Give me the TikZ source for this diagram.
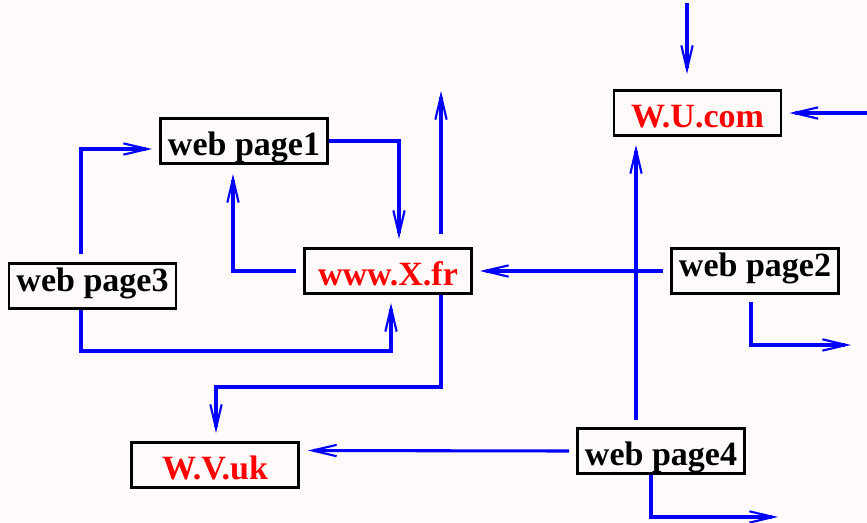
\documentclass[tikz,border=0pt]{standalone}
\usepackage{fontspec}
\setmainfont{Liberation Serif}
\usetikzlibrary{arrows.meta,calc}
\definecolor{snowbg}{RGB}{255,250,250}
\definecolor{linkblue}{RGB}{0,0,255}
\definecolor{sitered}{RGB}{255,0,0}
\tikzset{
  page/.style={draw=black, line width=2.2pt, inner sep=0pt,
    minimum width=125.25pt, minimum height=33.75pt,
    text height=24pt, text depth=2.5pt,
    font=\bfseries\fontsize{25.5pt}{30pt}\selectfont},
  raised/.style={text height=19pt, text depth=10.4pt},
  site/.style={page, text=sitered},
  link/.style={draw=linkblue, line width=2.3pt,
    -{Straight Barb[length=18pt,width=8.5pt,line width=1.6pt]}}
}
\begin{document}
\begin{tikzpicture}[x=0.75pt,y=-0.75pt]
  \fill[snowbg] (0,0) rectangle (867,522);
  \useasboundingbox (0,0) rectangle (867,522);

  % pages and sites
  \node[page] (wp1) at (244,141) {web page1};
  \node[page,raised] (wp3) at (92.5,286) {web page3};
  \node[site] (X)   at (388,271) {www.X.fr};
  \node[site] (WU)  at (697.5,113) {W.U.com\hspace{8pt}};
  \node[page,raised] (wp2) at (755,271) {web page2\hspace{6pt}};
  \node[page] (wp4) at (661,451) {web page4};
  \node[site] (WV)  at (215,465) {W.V.uk};

  % links
  \draw[link] ($(wp3.north)+(-11.5,-8.5)$) |- ($(wp1.west)+(-7,8)$);
  \draw[link] (wp1.east) -| ($(X.north)+(11,-8)$);
  \draw[link] ($(X.west)+(-7,0)$) -| ($(wp1.south)+(-11,9)$);
  \draw[link] ($(wp3.south)+(-11.5,0)$) -- ++(0,41) -| ($(X.south)+(3,8)$);
  \draw[link] ($(X.north)+(53,-13)$) -- ++(0,-143);
  \draw[link] ($(X.south)+(53,0)$) -- ++(0,92) -| ($(WV.north)+(1,-8)$);
  \draw[link] ($(wp2.west)+(-7,0)$) -- ($(X.east)+(7,0)$);
  \draw[link] ($(wp2.south)+(-4,7)$) |- ++(100,43);
  \draw[link] ($(wp4.north)+(-25,-7)$) -- ($(WU.south)+(-61.5,8)$);
  \draw[link] ($(wp4.west)+(-7,0)$) -- ($(WV.east)+(8,-14.5)$);
  \draw[link] ($(wp4.south)+(-10,0)$) |- ++(127,42);
  \draw[link] ($(WU.north)+(-10.5,-86)$) -- ($(WU.north)+(-10.5,-15)$);
  \draw[link] ($(WU.east)+(85,0)$) -- ($(WU.east)+(7,0)$);
\end{tikzpicture}
\end{document}
